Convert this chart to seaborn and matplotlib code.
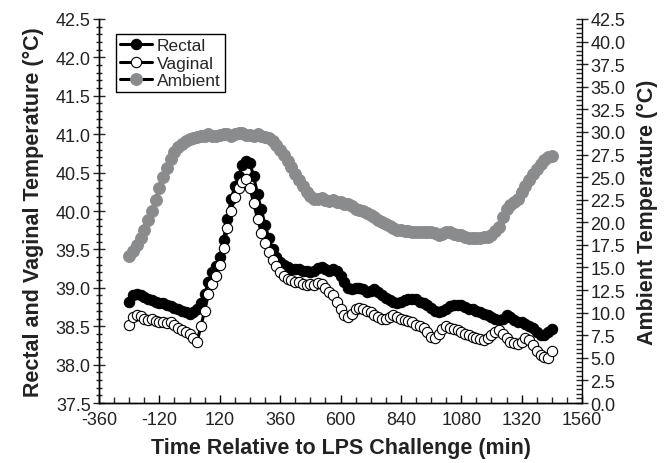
import numpy as np
import pandas as pd
import seaborn as sns
import matplotlib.pyplot as plt
from matplotlib.ticker import MultipleLocator, FixedLocator, FormatStrFormatter

# time relative to LPS challenge, 15 min steps
time_min = list(range(-240, 1441, 15))

rectal = [
    38.82, 38.90, 38.92, 38.90, 38.88, 38.85, 38.84, 38.82, 38.80, 38.80,
    38.78, 38.76, 38.74, 38.72, 38.70, 38.68, 38.66, 38.68, 38.72, 38.80,
    38.92, 39.08, 39.20, 39.28, 39.40, 39.62, 39.90, 40.15, 40.32, 40.45,
    40.60, 40.65, 40.62, 40.45, 40.22, 40.02, 39.82, 39.65, 39.50, 39.40,
    39.33, 39.30, 39.27, 39.25, 39.25, 39.24, 39.22, 39.22, 39.20, 39.22,
    39.26, 39.27, 39.24, 39.22, 39.25, 39.22, 39.15, 39.08, 39.00, 38.98,
    39.00, 39.00, 38.98, 38.95, 38.96, 38.98, 38.95, 38.90, 38.87, 38.84,
    38.82, 38.80, 38.82, 38.84, 38.85, 38.86, 38.85, 38.82, 38.80, 38.78,
    38.74, 38.70, 38.68, 38.70, 38.73, 38.76, 38.78, 38.78, 38.77, 38.75,
    38.73, 38.72, 38.70, 38.68, 38.66, 38.64, 38.62, 38.60, 38.58, 38.60,
    38.64, 38.62, 38.58, 38.56, 38.55, 38.53, 38.50, 38.48, 38.42, 38.38,
    38.39, 38.43, 38.47,
]

vaginal = [
    38.52, 38.62, 38.65, 38.63, 38.60, 38.58, 38.60, 38.57, 38.55, 38.55,
    38.54, 38.55, 38.52, 38.48, 38.45, 38.42, 38.40, 38.35, 38.30, 38.50,
    38.70, 38.92, 39.05, 39.15, 39.30, 39.52, 39.78, 40.00, 40.18, 40.30,
    40.38, 40.42, 40.30, 40.10, 39.90, 39.72, 39.58, 39.46, 39.36, 39.28,
    39.20, 39.15, 39.12, 39.10, 39.08, 39.07, 39.05, 39.04, 39.05, 39.04,
    39.06, 39.05, 39.00, 38.95, 38.90, 38.82, 38.72, 38.65, 38.62, 38.66,
    38.72, 38.74, 38.72, 38.70, 38.68, 38.64, 38.62, 38.60, 38.60, 38.62,
    38.64, 38.62, 38.60, 38.58, 38.57, 38.55, 38.52, 38.50, 38.48, 38.42,
    38.36, 38.35, 38.40, 38.47, 38.50, 38.48, 38.47, 38.45, 38.43, 38.40,
    38.38, 38.36, 38.35, 38.33, 38.32, 38.35, 38.38, 38.42, 38.45, 38.40,
    38.35, 38.30, 38.28, 38.27, 38.30, 38.35, 38.32, 38.25, 38.18, 38.12,
    38.10, 38.08, 38.18,
]

ambient = [
    16.3, 16.8, 17.5, 18.3, 19.2, 20.2, 21.3, 22.5, 23.8, 25.0,
    26.0, 27.0, 27.8, 28.3, 28.7, 29.0, 29.2, 29.3, 29.4, 29.5,
    29.6, 29.8, 29.6, 29.5, 29.7, 29.8, 29.8, 29.6, 29.8, 29.9,
    29.9, 29.7, 29.7, 29.6, 29.8, 29.6, 29.4, 29.3, 29.0, 28.5,
    28.0, 27.4, 26.8, 26.1, 25.4, 24.7, 24.0, 23.4, 22.9, 22.6,
    22.6, 22.7, 22.5, 22.4, 22.5, 22.3, 22.2, 22.0, 22.0, 21.8,
    21.5, 21.4, 21.2, 21.0, 20.8, 20.6, 20.3, 20.0, 19.8, 19.6,
    19.4, 19.2, 19.1, 19.0, 19.0, 18.9, 18.9, 18.9, 18.9, 18.9,
    18.9, 18.8, 18.6, 18.7, 18.9, 18.9, 18.7, 18.6, 18.6, 18.4,
    18.3, 18.3, 18.3, 18.3, 18.4, 18.4, 18.6, 19.0, 19.5, 20.6,
    21.5, 21.9, 22.2, 22.6, 23.3, 24.0, 24.7, 25.4, 25.9, 26.4,
    26.9, 27.2, 27.3,
]

x_ticks = list(range(-360, 1561, 240))

df = pd.DataFrame({'time': time_min, 'rectal': rectal,
                   'vaginal': vaginal, 'ambient': ambient})

sns.set_style('ticks')
plt.rcParams['font.family'] = ['Liberation Sans', 'DejaVu Sans']
plt.rcParams['axes.unicode_minus'] = False

fig = plt.figure(figsize=(6.69, 4.64), dpi=100)
ax = fig.add_axes([0.148, 0.1293, 0.722, 0.8276])
ax2 = ax.twinx()

grey = '#8a8b8d'

# rectal and vaginal on left axis
sns.lineplot(data=df, x='time', y='rectal', ax=ax, estimator=None,
             color='black', marker='o', markersize=7.5, linewidth=2.2,
             markeredgecolor='black', markerfacecolor='black', label='Rectal')
sns.lineplot(data=df, x='time', y='vaginal', ax=ax, estimator=None,
             color='black', marker='o', markersize=7.4, linewidth=2.2,
             markeredgecolor='black', markeredgewidth=0.8,
             markerfacecolor='white', label='Vaginal')
# ambient on right axis (black line hidden under grey markers)
sns.lineplot(data=df, x='time', y='ambient', ax=ax2, estimator=None,
             color='black', marker='o', markersize=8.5, linewidth=2.2,
             markeredgecolor=grey, markerfacecolor=grey, label='Ambient')
ax2.lines[0].set_zorder(1)

ax.set_xlim(-360, 1560)
ax.set_ylim(37.5, 42.5)
ax2.set_ylim(0, 42.5)

ax.xaxis.set_major_locator(FixedLocator(x_ticks))
ax.xaxis.set_minor_locator(MultipleLocator(60))
ax.yaxis.set_major_locator(MultipleLocator(0.5))
ax.yaxis.set_minor_locator(MultipleLocator(0.1))
ax.yaxis.set_major_formatter(FormatStrFormatter('%.1f'))
ax2.yaxis.set_major_locator(MultipleLocator(2.5))
ax2.yaxis.set_minor_locator(MultipleLocator(0.5))
ax2.yaxis.set_major_formatter(FormatStrFormatter('%.1f'))

for a in (ax, ax2):
    for side in a.spines:
        a.spines[side].set_linewidth(1.0)
        a.spines[side].set_color('black')
    a.spines['top'].set_visible(False)
ax.spines['right'].set_visible(False)

ax.tick_params(axis='x', which='major', direction='in', length=6, width=1,
               labelsize=13, pad=6, colors='black', labelcolor='#222222')
ax.tick_params(axis='x', which='minor', direction='in', length=4, width=1)
ax.tick_params(axis='y', which='major', direction='inout', length=8, width=1,
               labelsize=13, pad=2, labelcolor='#222222')
ax.tick_params(axis='y', which='minor', direction='inout', length=4, width=1)
ax2.tick_params(axis='y', which='major', direction='inout', length=8, width=1,
                labelsize=13, pad=2, labelcolor='#222222')
ax2.tick_params(axis='y', which='minor', direction='in', length=4, width=1)

ax.set_xlabel('Time Relative to LPS Challenge (min)', fontsize=15.5,
              fontweight='bold', labelpad=6, color='#222222')
ax.set_ylabel('Rectal and Vaginal Temperature (\u00b0C)', fontsize=15.5,
              fontweight='bold', labelpad=8, color='#222222')
ax2.set_ylabel('Ambient Temperature (\u00b0C)', fontsize=15.5,
               fontweight='bold', labelpad=8, color='#222222')

# one legend for both axes
h1, l1 = ax.get_legend_handles_labels()
h2, l2 = ax2.get_legend_handles_labels()
if ax2.get_legend() is not None:
    ax2.get_legend().remove()
leg = ax2.legend(h1 + h2, l1 + l2, loc='upper left',
                 bbox_to_anchor=(0.035, 0.961), borderaxespad=0,
                 fontsize=12.5, fancybox=False, framealpha=1,
                 edgecolor='black', handlelength=1.8, handletextpad=0.3,
                 labelspacing=0.12, borderpad=0.25)
leg.get_frame().set_linewidth(1.0)
if ax.get_legend() is not None:
    ax.get_legend().remove()

fig.savefig('out.png', dpi=100)
